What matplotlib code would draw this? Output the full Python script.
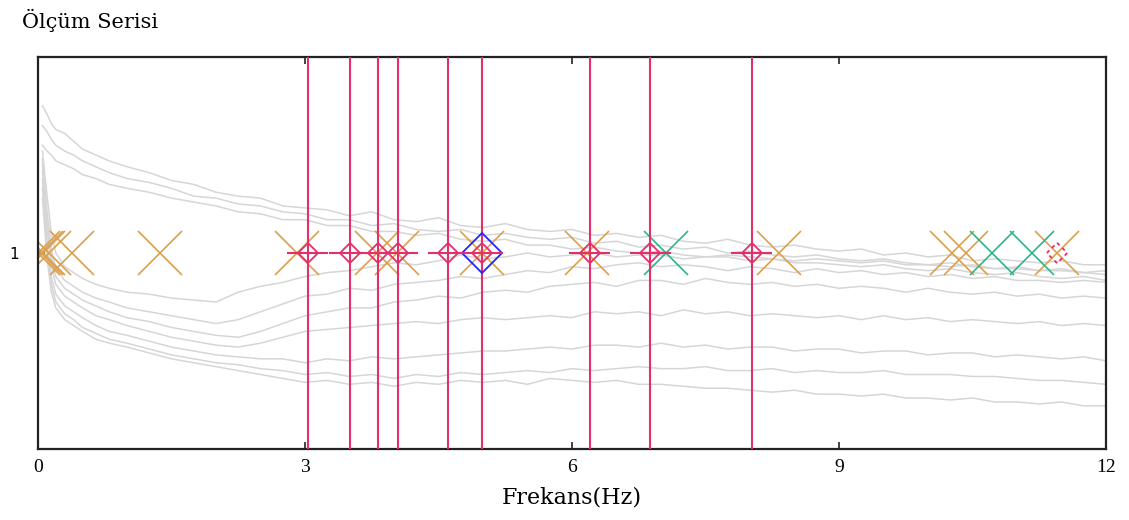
import matplotlib
matplotlib.use("Agg")
import matplotlib.pyplot as plt

# Frequency samples shared by all spectral curves (Hz)
freqs = [0.05, 0.1, 0.15, 0.2, 0.3, 0.4, 0.5, 0.65, 0.8, 1.0,
         1.25, 1.5, 1.75, 2.0, 2.25, 2.5, 2.75, 3.0, 3.25, 3.5, 3.75, 4.0,
         4.25, 4.5, 4.75, 5.0, 5.25, 5.5, 5.75, 6.0, 6.25, 6.5, 6.75, 7.0,
         7.25, 7.5, 7.75, 8.0, 8.25, 8.5, 8.75, 9.0, 9.25, 9.5, 9.75, 10.0,
         10.25, 10.5, 10.75, 11.0, 11.25, 11.5, 11.75, 12.0]

curve_a = [1.75, 1.71, 1.66, 1.63, 1.61, 1.57, 1.53, 1.50, 1.47, 1.44,
           1.41, 1.37, 1.35, 1.31, 1.29, 1.28, 1.24, 1.23, 1.22, 1.19, 1.21, 1.17,
           1.16, 1.18, 1.14, 1.13, 1.15, 1.12, 1.11, 1.12, 1.09, 1.10, 1.08, 1.09,
           1.06, 1.05, 1.07, 1.04, 1.03, 1.04, 1.02, 1.01, 1.02, 0.99, 1.00, 0.98,
           0.99, 0.96, 0.97, 0.96, 0.95, 0.96, 0.94, 0.94]
curve_b = [1.65, 1.62, 1.58, 1.55, 1.52, 1.50, 1.47, 1.44, 1.41, 1.38,
           1.36, 1.33, 1.29, 1.28, 1.25, 1.24, 1.21, 1.20, 1.17, 1.17, 1.14, 1.15,
           1.12, 1.11, 1.12, 1.09, 1.10, 1.08, 1.07, 1.08, 1.05, 1.06, 1.03, 1.04,
           1.02, 1.03, 1.00, 1.01, 0.99, 0.98, 0.99, 0.97, 0.96, 0.97, 0.95, 0.94,
           0.95, 0.93, 0.92, 0.93, 0.91, 0.91, 0.90, 0.89]
curve_c = [1.55, 1.52, 1.50, 1.47, 1.45, 1.43, 1.40, 1.38, 1.35, 1.33,
           1.31, 1.28, 1.26, 1.24, 1.21, 1.20, 1.17, 1.17, 1.14, 1.14, 1.11, 1.11,
           1.09, 1.10, 1.07, 1.06, 1.07, 1.04, 1.04, 1.02, 1.03, 1.01, 1.00, 1.01,
           0.99, 0.98, 0.98, 0.96, 0.97, 0.95, 0.95, 0.94, 0.93, 0.94, 0.92, 0.91,
           0.92, 0.90, 0.89, 0.90, 0.88, 0.87, 0.88, 0.86]
curve_d = [1.48, 1.22, 1.02, 0.92, 0.86, 0.83, 0.80, 0.77, 0.75, 0.72,
           0.70, 0.68, 0.66, 0.64, 0.66, 0.70, 0.74, 0.78, 0.79, 0.82, 0.81, 0.84,
           0.85, 0.86, 0.88, 0.87, 0.89, 0.91, 0.90, 0.93, 0.92, 0.94, 0.95, 0.93,
           0.94, 0.93, 0.91, 0.93, 0.92, 0.90, 0.92, 0.90, 0.91, 0.89, 0.90, 0.88,
           0.89, 0.87, 0.88, 0.86, 0.86, 0.85, 0.86, 0.85]
curve_e = [1.45, 1.18, 0.98, 0.88, 0.82, 0.79, 0.76, 0.73, 0.70, 0.67,
           0.65, 0.62, 0.60, 0.58, 0.57, 0.60, 0.64, 0.68, 0.70, 0.72, 0.72, 0.75,
           0.76, 0.78, 0.77, 0.80, 0.81, 0.80, 0.83, 0.84, 0.85, 0.83, 0.86, 0.86,
           0.84, 0.87, 0.85, 0.84, 0.85, 0.83, 0.84, 0.82, 0.83, 0.82, 0.80, 0.82,
           0.80, 0.79, 0.80, 0.78, 0.79, 0.77, 0.78, 0.77]
curve_f = [1.42, 1.12, 0.94, 0.84, 0.78, 0.75, 0.72, 0.68, 0.66, 0.63,
           0.60, 0.57, 0.55, 0.53, 0.52, 0.54, 0.57, 0.60, 0.61, 0.62, 0.63, 0.64,
           0.65, 0.64, 0.66, 0.67, 0.66, 0.67, 0.68, 0.67, 0.70, 0.69, 0.70, 0.68,
           0.71, 0.69, 0.70, 0.68, 0.69, 0.68, 0.67, 0.68, 0.66, 0.68, 0.66, 0.67,
           0.65, 0.66, 0.65, 0.64, 0.65, 0.63, 0.64, 0.63]
curve_g = [1.38, 1.06, 0.88, 0.79, 0.73, 0.70, 0.67, 0.63, 0.60, 0.58,
           0.55, 0.52, 0.50, 0.48, 0.47, 0.46, 0.46, 0.44, 0.46, 0.45, 0.47, 0.46,
           0.47, 0.48, 0.49, 0.50, 0.50, 0.51, 0.52, 0.51, 0.53, 0.53, 0.52, 0.54,
           0.52, 0.53, 0.51, 0.52, 0.52, 0.50, 0.51, 0.51, 0.49, 0.50, 0.50, 0.48,
           0.49, 0.49, 0.47, 0.48, 0.47, 0.46, 0.47, 0.45]
curve_h = [1.33, 1.02, 0.84, 0.75, 0.69, 0.66, 0.62, 0.59, 0.56, 0.54,
           0.51, 0.48, 0.46, 0.44, 0.43, 0.41, 0.40, 0.38, 0.39, 0.37, 0.38, 0.36,
           0.38, 0.37, 0.39, 0.38, 0.39, 0.40, 0.39, 0.41, 0.40, 0.41, 0.42, 0.41,
           0.41, 0.42, 0.40, 0.40, 0.41, 0.39, 0.40, 0.39, 0.39, 0.40, 0.38, 0.38,
           0.38, 0.37, 0.37, 0.36, 0.35, 0.35, 0.34, 0.33]
curve_i = [1.28, 0.98, 0.80, 0.72, 0.66, 0.63, 0.60, 0.56, 0.54, 0.52,
           0.49, 0.46, 0.44, 0.42, 0.40, 0.38, 0.36, 0.34, 0.35, 0.33, 0.34, 0.32,
           0.34, 0.33, 0.35, 0.34, 0.35, 0.33, 0.36, 0.35, 0.34, 0.35, 0.33, 0.33,
           0.32, 0.31, 0.31, 0.30, 0.29, 0.30, 0.28, 0.28, 0.27, 0.28, 0.26, 0.26,
           0.25, 0.26, 0.24, 0.24, 0.23, 0.24, 0.22, 0.22]
curve_j = [1.52, 1.30, 1.10, 1.00, 0.93, 0.90, 0.87, 0.84, 0.82, 0.80,
           0.79, 0.77, 0.76, 0.75, 0.80, 0.83, 0.85, 0.88, 0.90, 0.91, 0.93, 0.95,
           0.94, 0.96, 0.99, 0.97, 0.98, 1.00, 0.98, 0.99, 1.00, 0.98, 0.99, 0.99,
           0.97, 0.98, 0.99, 0.98, 0.97, 0.96, 0.97, 0.96, 0.95, 0.96, 0.94, 0.94,
           0.93, 0.94, 0.92, 0.92, 0.91, 0.92, 0.90, 0.91]

curves = [curve_a, curve_b, curve_c, curve_d, curve_e,
          curve_f, curve_g, curve_h, curve_i, curve_j]

# Picked peak frequencies (Hz) with their uncertainty
peak_freqs = [3.03, 3.50, 3.82, 4.04, 4.61, 4.99, 6.20, 6.88, 8.02]
peak_err = [0.23, 0.23, 0.23, 0.23, 0.23, 0.23, 0.23, 0.23, 0.23]
peak_level = 1.0

# Individual window estimates
orange_freqs = [0.00, 0.03, 0.06, 0.12, 0.38, 1.37, 2.91, 3.81, 4.03,
                4.99, 6.17, 8.33, 10.27, 10.43, 11.45]
green_freqs = [7.06, 10.72, 11.17]
blue_freq = 4.99
weak_freq = 11.45

x_ticks = [0, 3, 6, 9, 12]
y_ticks = [1]

RED = "#e3306a"
ORANGE = "#dca04c"
GREEN = "#2db688"
BLUE = "#2424ff"
GRAY = "#d6d6d6"
SERIF = "Liberation Serif"
WIDE_SERIF = "DejaVu Serif"

fig = plt.figure(figsize=(11.29, 5.2), dpi=100)
ax = fig.add_axes([38 / 1129, 71 / 520, 1068 / 1129, 392 / 520])

for c in curves:
    ax.plot(freqs, c, color=GRAY, lw=1.1, zorder=1)

for f in peak_freqs:
    ax.axvline(f, color=RED, lw=1.5, zorder=3)

ones = lambda seq: [peak_level] * len(seq)

ax.plot(orange_freqs, ones(orange_freqs), ls="none", marker="x",
        ms=31, mew=1.2, color=ORANGE, zorder=2)
ax.plot(green_freqs, ones(green_freqs), ls="none", marker="x",
        ms=31, mew=1.2, color=GREEN, zorder=2)

ax.plot([blue_freq], [peak_level], ls="none", marker="D", ms=20.5,
        mfc="none", mec=BLUE, mew=1.3, zorder=4)

ax.errorbar(peak_freqs, ones(peak_freqs), xerr=peak_err, fmt="D", ms=10,
            mfc="none", mec=RED, mew=1.3, ecolor=RED, elinewidth=1.5,
            capsize=0, color=RED, zorder=5)

# Weak peak: small dashed diamond outline (half-widths in axis units)
dx, dy = 0.115, 0.052
ax.plot([weak_freq - dx, weak_freq, weak_freq + dx, weak_freq, weak_freq - dx],
        [peak_level, peak_level + dy, peak_level, peak_level - dy, peak_level],
        color=RED, lw=1.3, ls=(0, (2, 2)), zorder=5)

ax.set_xlim(0, 12)
ax.set_ylim(0, 2)
ax.set_xticks(x_ticks)
ax.set_xticklabels([str(t) for t in x_ticks], fontfamily=SERIF, fontsize=14)
ax.set_yticks(y_ticks)
ax.set_yticklabels(["1"], fontfamily="DejaVu Sans", fontsize=11)
ax.tick_params(axis="both", direction="in", length=5, width=1.2,
               top=True, right=False, color="#222222")
ax.tick_params(axis="x", pad=7)
ax.tick_params(axis="y", pad=14)
for s in ax.spines.values():
    s.set_linewidth(1.6)
    s.set_color("#222222")

ax.set_xlabel("Frekans(Hz)", fontfamily=WIDE_SERIF, fontsize=16, labelpad=8)
fig.text(22 / 1129, 1 - 20 / 520, "Ölçüm Serisi", fontfamily=WIDE_SERIF,
         fontsize=15, va="center", ha="left")

fig.savefig("out.png", dpi=100)
